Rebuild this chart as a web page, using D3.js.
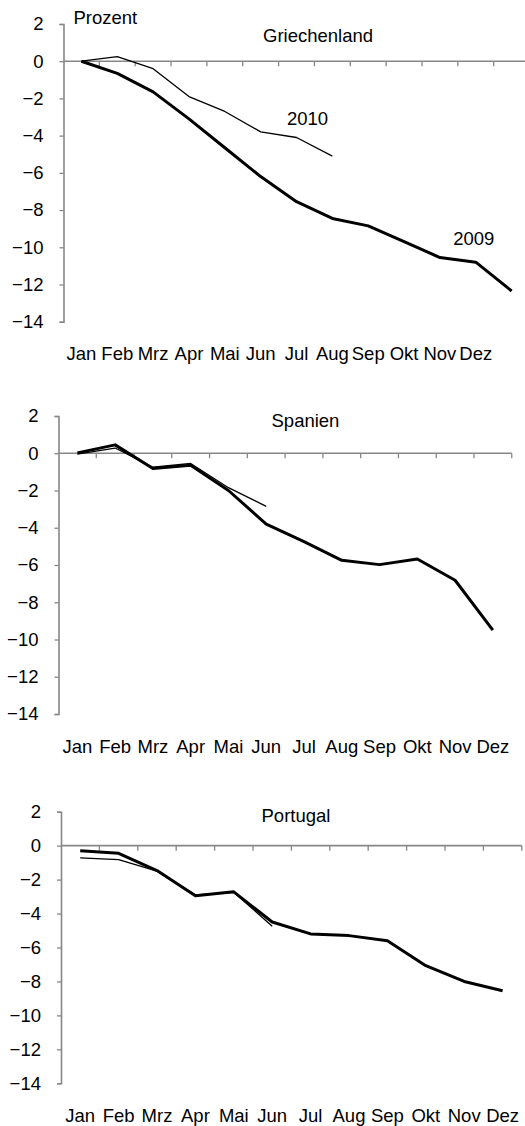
<!DOCTYPE html>
<html>
<head>
<meta charset="utf-8">
<script src="https://cdn.jsdelivr.net/npm/d3@7"></script>
<style>
  html, body { margin: 0; padding: 0; background: #fff; }
  svg { display: block; }
  text { font-family: "Liberation Sans", Arial, sans-serif; font-size: 18.5px; fill: #000; }
</style>
</head>
<body>
<div id="chart"></div>
<script>
// month labels, y ticks
const months = ["Jan", "Feb", "Mrz", "Apr", "Mai", "Jun", "Jul", "Aug", "Sep", "Okt", "Nov", "Dez"];
const yTicks = [2, 0, -2, -4, -6, -8, -10, -12, -14];

// Griechenland (13 points for 2009)
const grc2009 = [0, -0.65, -1.65, -3.1, -4.65, -6.2, -7.55, -8.45, -8.85, -9.7, -10.55, -10.8, -12.35];
const grc2010 = [0, 0.25, -0.4, -1.9, -2.7, -3.8, -4.1, -5.1];

// Spanien
const esp2009 = [0.02, 0.45, -0.82, -0.64, -2.0, -3.8, -4.75, -5.75, -5.98, -5.68, -6.82, -9.5];
const esp2010 = [-0.05, 0.28, -0.75, -0.55, -1.85, -2.85];

// Portugal
const prt2009 = [-0.3, -0.45, -1.47, -2.95, -2.72, -4.5, -5.2, -5.3, -5.6, -7.07, -8.0, -8.55];
const prt2010 = [-0.72, -0.82, -1.5, -2.9, -2.75, -4.75];

const W = 525, H = 1126;
const axisColor = "#878787";

// layout for each panel
const panels = [
  { title: "Griechenland", x0: 63.5, bw: 35.85, n: 13, yTop: 24, yBot: 321.7,
    titleX: 263, titleY: 41.7, lines: [grc2009, grc2010], unit: true,
    notes: [{ text: "2010", i: 6, v: -3.45, dx: 11 }, { text: "2009", i: 11, v: -9.9, dx: -2 }] },
  { title: "Spanien", x0: 58.5, bw: 37.77, n: 12, yTop: 416, yBot: 714,
    titleX: 271.5, titleY: 426.7, lines: [esp2009, esp2010], notes: [] },
  { title: "Portugal", x0: 61, bw: 38.4, n: 12, yTop: 811.7, yBot: 1083.3,
    titleX: 261.5, titleY: 821.7, lines: [prt2009, prt2010], notes: [] }
];

const svg = d3.select("#chart").append("svg")
  .attr("width", W)
  .attr("height", H);

panels.forEach(p => {
  const g = svg.append("g");

  const x = d3.scaleBand()
    .domain(d3.range(p.n))
    .range([p.x0, p.x0 + p.n * p.bw]);
  const xc = i => x(i) + x.bandwidth() / 2;

  const y = d3.scaleLinear()
    .domain([-14, 2])
    .range([p.yBot, p.yTop]);

  // y axis
  const yAxis = d3.axisLeft(y)
    .tickValues(yTicks)
    .tickSize(4)
    .tickPadding(16)
    .tickFormat(d3.format("d"));
  const ya = g.append("g")
    .attr("transform", `translate(${p.x0},0)`)
    .call(yAxis);
  ya.select(".domain").attr("stroke", axisColor).attr("stroke-width", 1.6);
  ya.selectAll(".tick line").attr("stroke", axisColor).attr("stroke-width", 1.3);
  ya.selectAll(".tick text")
    .style("font-family", "'Liberation Sans', Arial, sans-serif")
    .style("font-size", "18.5px")
    .attr("fill", "#000");

  // x axis at zero: line plus tick marks at band edges
  g.append("line")
    .attr("x1", p.x0).attr("x2", p.x0 + p.n * p.bw)
    .attr("y1", y(0)).attr("y2", y(0))
    .attr("stroke", axisColor)
    .attr("stroke-width", 1.6);
  g.selectAll(".xtick")
    .data(d3.range(1, p.n + 1))
    .join("line")
    .attr("class", "xtick")
    .attr("x1", i => p.x0 + i * x.step())
    .attr("x2", i => p.x0 + i * x.step())
    .attr("y1", y(0))
    .attr("y2", y(0) + 5)
    .attr("stroke", axisColor)
    .attr("stroke-width", 1.3);

  // month labels below the plot
  g.selectAll(".mlabel")
    .data(months)
    .join("text")
    .attr("class", "mlabel")
    .attr("x", (d, i) => xc(i))
    .attr("y", p.yBot + 38.5)
    .attr("text-anchor", "middle")
    .text(d => d);

  // title
  g.append("text")
    .attr("x", p.titleX)
    .attr("y", p.titleY)
    .text(p.title);

  if (p.unit) {
    g.append("text")
      .attr("x", p.x0 + 10)
      .attr("y", p.yTop)
      .text("Prozent");
  }

  // series: 2009 thick, 2010 thin
  const line = d3.line()
    .x((d, i) => xc(i))
    .y(d => y(d));
  g.selectAll(".series")
    .data(p.lines)
    .join("path")
    .attr("class", "series")
    .attr("d", d => line(d))
    .attr("fill", "none")
    .attr("stroke", "#000")
    .attr("stroke-linejoin", "round")
    .attr("stroke-width", (d, i) => i === 0 ? 3 : 1.3);

  // year notes
  g.selectAll(".note")
    .data(p.notes)
    .join("text")
    .attr("class", "note")
    .attr("x", d => xc(d.i) + d.dx)
    .attr("y", d => y(d.v))
    .attr("text-anchor", "middle")
    .text(d => d.text);
});
</script>
</body>
</html>
